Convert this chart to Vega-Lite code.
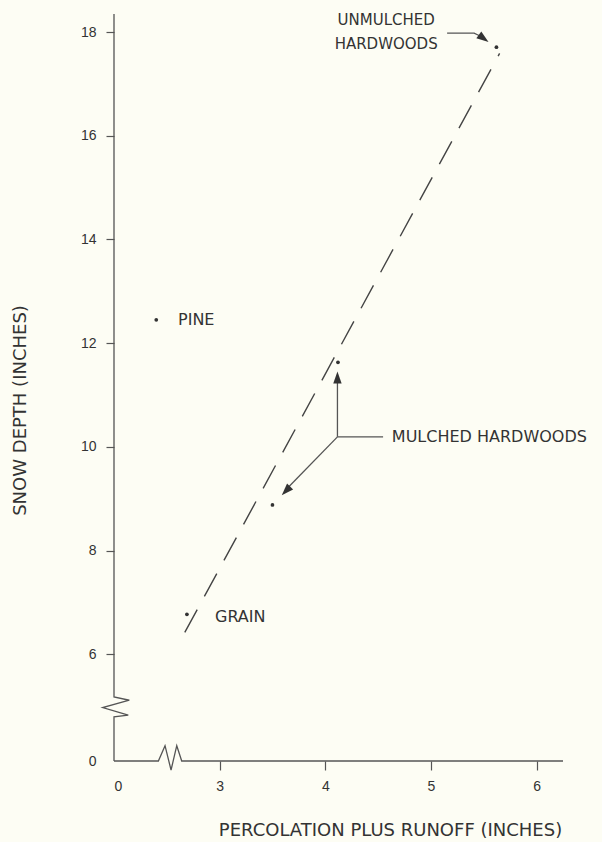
{
  "$schema": "https://vega.github.io/schema/vega-lite/v6.json",
  "width": 449,
  "height": 747,
  "autosize": {"type": "none"},
  "padding": {"left": 114, "top": 14, "right": 39, "bottom": 81},
  "background": "#fdfdf4",
  "config": {"view": {"stroke": null}},
  "datasets": {
    "points": [
      {"site": "Pine", "x": 2.40, "y": 12.45},
      {"site": "Grain", "x": 2.69, "y": 6.77},
      {"site": "Mulched hardwoods A", "x": 3.50, "y": 8.88},
      {"site": "Mulched hardwoods B", "x": 4.12, "y": 11.63},
      {"site": "Unmulched hardwoods", "x": 5.62, "y": 17.71}
    ],
    "trend": [
      {"seq": 0, "x": 2.67, "y": 6.42},
      {"seq": 1, "x": 5.65, "y": 17.59}
    ],
    "lines": [
      {"id": "yaxis", "seq": 0, "x": 2, "y": 18.35},
      {"id": "yaxis", "seq": 1, "x": 2, "y": 5.176},
      {"id": "yaxis", "seq": 2, "x": 2.145, "y": 5.112},
      {"id": "yaxis", "seq": 3, "x": 1.893, "y": 4.972},
      {"id": "yaxis", "seq": 4, "x": 2.135, "y": 4.823},
      {"id": "yaxis", "seq": 5, "x": 2, "y": 4.79},
      {"id": "yaxis", "seq": 6, "x": 2, "y": 3.94},
      {"id": "xaxis", "seq": 0, "x": 2, "y": 3.94},
      {"id": "xaxis", "seq": 1, "x": 2.42, "y": 3.94},
      {"id": "xaxis", "seq": 2, "x": 2.483, "y": 4.235},
      {"id": "xaxis", "seq": 3, "x": 2.54, "y": 3.766},
      {"id": "xaxis", "seq": 4, "x": 2.594, "y": 4.235},
      {"id": "xaxis", "seq": 5, "x": 2.641, "y": 3.94},
      {"id": "xaxis", "seq": 6, "x": 6.25, "y": 3.94},
      {"id": "unmulched", "seq": 0, "x": 5.153, "y": 17.98},
      {"id": "unmulched", "seq": 1, "x": 5.409, "y": 17.98},
      {"id": "unmulched", "seq": 2, "x": 5.46, "y": 17.93},
      {"id": "mh_h", "seq": 0, "x": 4.115, "y": 10.193},
      {"id": "mh_h", "seq": 1, "x": 4.547, "y": 10.193},
      {"id": "mh_v", "seq": 0, "x": 4.115, "y": 10.193},
      {"id": "mh_v", "seq": 1, "x": 4.115, "y": 11.3},
      {"id": "mh_d", "seq": 0, "x": 4.115, "y": 10.193},
      {"id": "mh_d", "seq": 1, "x": 3.65, "y": 9.22}
    ],
    "labels": [
      {"label": "PINE", "x": 2.606, "y": 12.45},
      {"label": "GRAIN", "x": 2.956, "y": 6.71},
      {"label": "MULCHED HARDWOODS", "x": 4.63, "y": 10.193}
    ],
    "toplabels": [
      {"label": "UNMULCHED", "x": 4.576, "y": 18.23},
      {"label": "HARDWOODS", "x": 4.576, "y": 17.77}
    ]
  },
  "encoding": {
    "x": {
      "field": "x",
      "type": "quantitative",
      "scale": {"domain": [2, 6.25], "nice": false, "zero": false},
      "axis": {
        "values": [2, 3, 4, 5, 6],
        "labelExpr": "datum.value < 2.5 ? '0' : datum.label",
        "domain": false,
        "grid": false,
        "tickSize": 9,
        "tickColor": "#555",
        "tickWidth": 1.2,
        "tickOpacity": {"condition": {"test": "datum.value < 2.5", "value": 0}, "value": 1},
        "labelPadding": 9,
        "labelFont": "Liberation Sans",
        "labelFontSize": 14,
        "labelColor": "#333",
        "title": "PERCOLATION PLUS RUNOFF (INCHES)",
        "titleX": 276,
        "titleY": 69,
        "titleAlign": "center",
        "titleBaseline": "middle",
        "titleFont": "DejaVu Sans",
        "titleFontSize": 18,
        "titleFontWeight": "normal",
        "titleColor": "#333"
      }
    },
    "y": {
      "field": "y",
      "type": "quantitative",
      "scale": {"domain": [3.94, 18.35], "nice": false, "zero": false},
      "axis": {
        "values": [3.94, 6, 8, 10, 12, 14, 16, 18],
        "labelExpr": "datum.value < 5 ? '0' : datum.label",
        "domain": false,
        "grid": false,
        "tickSize": 8,
        "tickColor": "#555",
        "tickWidth": 1.2,
        "tickOpacity": {"condition": {"test": "datum.value < 5", "value": 0}, "value": 1},
        "labelPadding": 10,
        "labelFont": "Liberation Sans",
        "labelFontSize": 14,
        "labelColor": "#333",
        "title": "SNOW DEPTH (INCHES)",
        "titleX": -94,
        "titleY": 396,
        "titleAngle": 270,
        "titleAlign": "center",
        "titleBaseline": "middle",
        "titleFont": "DejaVu Sans",
        "titleFontSize": 18,
        "titleFontWeight": "normal",
        "titleColor": "#333"
      }
    }
  },
  "layer": [
    {
      "data": {"name": "lines"},
      "mark": {"type": "line", "color": "#555", "strokeWidth": 1.3, "clip": false},
      "encoding": {
        "detail": {"field": "id"},
        "order": {"field": "seq"}
      }
    },
    {
      "data": {"name": "trend"},
      "mark": {"type": "line", "color": "#444", "strokeWidth": 1.4, "strokeDash": [26, 15]},
      "encoding": {"order": {"field": "seq"}}
    },
    {
      "data": {"name": "points"},
      "mark": {"type": "point", "shape": "circle", "filled": true, "size": 14, "color": "#333", "opacity": 1}
    },
    {
      "data": {"values": [{"x": 4.115, "y": 11.454}]},
      "mark": {"type": "point", "shape": "M0,0L-0.7,2L0.7,2Z", "filled": true, "size": 144, "color": "#333", "opacity": 1, "angle": 0}
    },
    {
      "data": {"values": [{"x": 3.588, "y": 9.068}]},
      "mark": {"type": "point", "shape": "M0,0L-0.7,2L0.7,2Z", "filled": true, "size": 144, "color": "#333", "opacity": 1, "angle": 224}
    },
    {
      "data": {"values": [{"x": 5.545, "y": 17.81}]},
      "mark": {"type": "point", "shape": "M0,0L-0.7,2L0.7,2Z", "filled": true, "size": 144, "color": "#333", "opacity": 1, "angle": 126}
    },
    {
      "data": {"name": "labels"},
      "mark": {"type": "text", "align": "left", "baseline": "middle", "font": "DejaVu Sans", "fontSize": 16, "color": "#333"},
      "encoding": {"text": {"field": "label"}}
    },
    {
      "data": {"name": "toplabels"},
      "mark": {"type": "text", "align": "center", "baseline": "middle", "font": "DejaVu Sans", "fontSize": 15, "color": "#333"},
      "encoding": {"text": {"field": "label"}}
    }
  ]
}
